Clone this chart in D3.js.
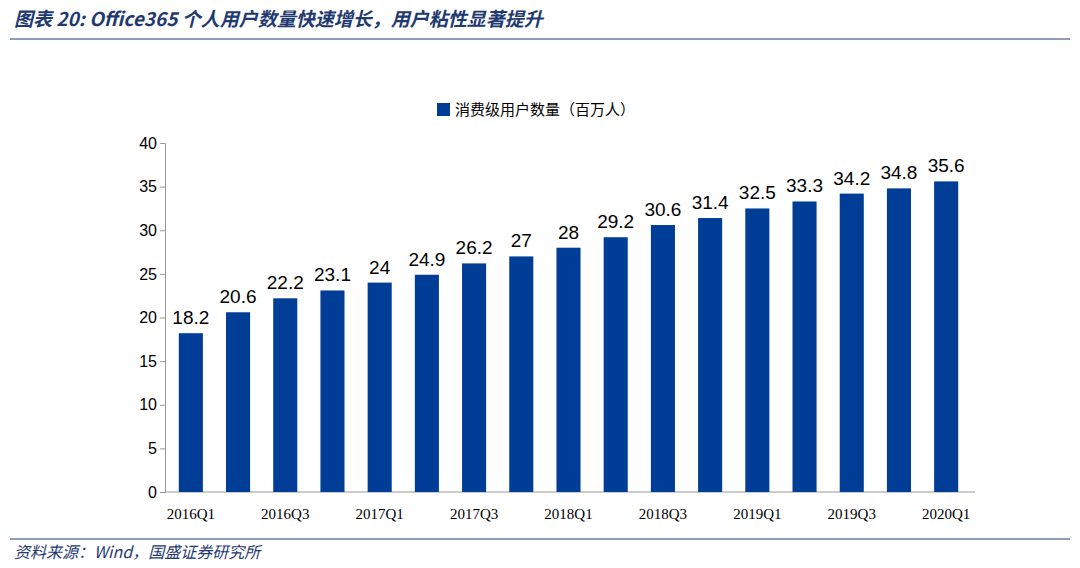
<!DOCTYPE html>
<html><head><meta charset="utf-8">
<script src="https://d3js.org/d3.v7.min.js"></script>
<style>body{margin:0;background:#fff;font-family:"Noto Sans CJK SC",sans-serif;}</style>
</head><body>
<script>
var quarters = ["2016Q1","2016Q2","2016Q3","2016Q4","2017Q1","2017Q2","2017Q3","2017Q4","2018Q1","2018Q2","2018Q3","2018Q4","2019Q1","2019Q2","2019Q3","2019Q4","2020Q1"];
var users = [18.2,20.6,22.2,23.1,24,24.9,26.2,27,28,29.2,30.6,31.4,32.5,33.3,34.2,34.8,35.6];
var yTicks = [0,5,10,15,20,25,30,35,40];
var seriesName = "消费级用户数量（百万人）";

var W = 1080, H = 568;
var svg = d3.select("body").append("svg").attr("width", W).attr("height", H);

// 标题
svg.append("text").attr("x", 14).attr("y", 26)
  .attr("font-size", "19px").attr("font-style", "italic").attr("font-weight", "bold")
  .style("fill", "#1f3a70")
  .text("图表 20:  Office365 个人用户数量快速增长，用户粘性显著提升");
svg.append("line").attr("x1", 10).attr("x2", 1070).attr("y1", 39).attr("y2", 39)
  .attr("stroke", "#1f3a70").attr("stroke-width", 1);
svg.append("line").attr("x1", 10).attr("x2", 1070).attr("y1", 539).attr("y2", 539)
  .attr("stroke", "#1f3a70").attr("stroke-width", 1);
svg.append("text").attr("x", 14).attr("y", 558)
  .attr("font-size", "16px").attr("font-style", "italic")
  .style("fill", "#1f3a70")
  .text("资料来源：Wind，国盛证券研究所");

var x = d3.scaleBand().domain(quarters).range([167, 970]).paddingInner(0.49).paddingOuter(0.25);
var y = d3.scaleLinear().domain([0, 40]).range([492, 143]);

// 图例
svg.append("rect").attr("x", 437).attr("y", 103).attr("width", 13).attr("height", 13).style("fill", "#003d96");
svg.append("text").attr("x", 455).attr("y", 115).attr("font-size", "15px").style("fill", "#000").text(seriesName);

// y轴
var yAxis = svg.append("g").attr("transform", "translate(165,0)")
  .call(d3.axisLeft(y).tickValues(yTicks).tickSize(5).tickFormat(d3.format("d")));
yAxis.selectAll("text").attr("font-size", "16px").attr("font-family", "Liberation Sans, Arial").style("fill", "#000");
yAxis.selectAll("line,path").attr("stroke", "#999");

// x轴
var xAxis = svg.append("g").attr("transform", "translate(0,492)")
  .call(d3.axisBottom(x).tickSize(0).tickFormat(function(d, i){ return i % 2 === 0 ? d : ""; }));
xAxis.select("path").attr("stroke", "#999").attr("d", "M165,0H975");
xAxis.selectAll("text").attr("dy", "1.6em").attr("font-size", "15px").attr("font-family", "Liberation Serif, serif").style("fill", "#000");

svg.selectAll(".bar").data(users).enter().append("rect")
  .attr("class", "bar")
  .attr("x", function(d, i){ return x(quarters[i]); })
  .attr("width", x.bandwidth())
  .attr("y", function(d){ return y(d); })
  .attr("height", function(d){ return y(0) - y(d); })
  .style("fill", "#003d96");

svg.selectAll(".lbl").data(users).enter().append("text")
  .attr("x", function(d, i){ return x(quarters[i]) + x.bandwidth() / 2; })
  .attr("y", function(d){ return y(d) - 9; })
  .attr("text-anchor", "middle")
  .attr("font-size", "19px").attr("font-family", "Liberation Sans, Arial")
  .style("fill", "#000")
  .text(function(d){ return d; });
</script>
</body></html>
